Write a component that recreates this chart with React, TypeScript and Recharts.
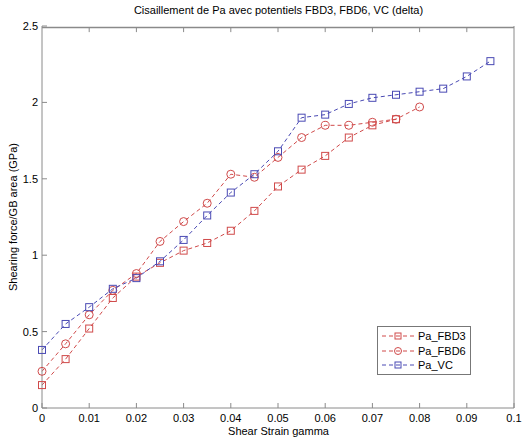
import { LineChart, Line, XAxis, YAxis, ReferenceLine } from 'recharts';

const strain = [0, 0.005, 0.01, 0.015, 0.02, 0.025, 0.03, 0.035, 0.04, 0.045, 0.05, 0.055, 0.06, 0.065, 0.07, 0.075, 0.08, 0.085, 0.09, 0.095];
const fbd3 = [0.15, 0.32, 0.52, 0.72, 0.86, 0.95, 1.03, 1.08, 1.16, 1.29, 1.45, 1.56, 1.65, 1.77, 1.85, 1.89];
const fbd6 = [0.24, 0.42, 0.61, 0.77, 0.88, 1.09, 1.22, 1.34, 1.53, 1.51, 1.64, 1.77, 1.85, 1.85, 1.87, 1.89, 1.97];
const vc = [0.38, 0.55, 0.66, 0.78, 0.85, 0.96, 1.1, 1.26, 1.41, 1.53, 1.68, 1.9, 1.92, 1.99, 2.03, 2.05, 2.07, 2.09, 2.17, 2.27];
const xTicks = [0, 0.01, 0.02, 0.03, 0.04, 0.05, 0.06, 0.07, 0.08, 0.09, 0.1];
const yTicks = [0, 0.5, 1, 1.5, 2, 2.5];

const RED = '#d04a4a';
const BLUE = '#4a4ab4';
const AXIS = '#8a8a8a';
const FONT = 'Liberation Sans, Arial, sans-serif';

const data = strain.map((x, i) => ({ x, fbd3: fbd3[i], fbd6: fbd6[i], vc: vc[i] }));

const square = (color: string) => (props: any) => {
  const { cx, cy, index } = props;
  if (cx == null || cy == null) return <g key={index} />;
  return <rect key={index} x={cx - 3.5} y={cy - 3.5} width={7} height={7} fill='none' stroke={color} strokeWidth={1} />;
};
const circle = (color: string) => (props: any) => {
  const { cx, cy, index } = props;
  if (cx == null || cy == null) return <g key={index} />;
  return <circle key={index} cx={cx} cy={cy} r={4} fill='none' stroke={color} strokeWidth={1} />;
};

const legendItems = [
  { name: 'Pa_FBD3', color: RED, shape: 'square' },
  { name: 'Pa_FBD6', color: RED, shape: 'circle' },
  { name: 'Pa_VC', color: BLUE, shape: 'square' },
];

const LegendBox = () => (
  <div style={{ position: 'absolute', left: 377, top: 326, border: '1px solid #777', background: '#fff', width: 94, height: 49, boxSizing: 'border-box', padding: '2px 0 0 3px', fontFamily: FONT, fontSize: 11 }}>
    {legendItems.map((it) => (
      <div key={it.name} style={{ display: 'flex', alignItems: 'center', height: 14.5 }}>
        <svg width={34} height={12}>
          <line x1={1} y1={6} x2={33} y2={6} stroke={it.color} strokeDasharray='4 3' />
          {it.shape === 'square' ? (
            <rect x={14} y={3} width={6} height={6} fill='none' stroke={it.color} />
          ) : (
            <circle cx={17} cy={6} r={3.5} fill='none' stroke={it.color} />
          )}
        </svg>
        <span style={{ marginLeft: 3, color: '#000' }}>{it.name}</span>
      </div>
    ))}
  </div>
);

export default function App() {
  return (
    <div style={{ position: 'absolute', left: 0, top: 0, width: 524, height: 438, background: '#fff', fontFamily: FONT }}>
      <div style={{ position: 'absolute', left: 42, width: 473, top: 4, textAlign: 'center', fontSize: 11, color: '#000' }}>
        Cisaillement de Pa avec potentiels FBD3, FBD6, VC (delta)
      </div>
      <div style={{ position: 'absolute', left: 42, width: 473, top: 425, textAlign: 'center', fontSize: 11, color: '#000' }}>
        Shear Strain gamma
      </div>
      <div style={{ position: 'absolute', left: 13, top: 217, transform: 'translate(-50%, -50%) rotate(-90deg)', whiteSpace: 'nowrap', fontSize: 11, color: '#000' }}>
        Shearing force/GB area (GPa)
      </div>
      <LineChart width={524} height={438} data={data} margin={{ top: 26, right: 9, bottom: 0, left: 0 }}>
        <XAxis
          dataKey='x'
          type='number'
          domain={[0, 0.1]}
          ticks={xTicks}
          interval={0}
          height={30}
          stroke={AXIS}
          tickSize={-5}
          tickMargin={11}
          tick={{ fill: '#000', fontSize: 11, fontFamily: FONT }}
        />
        <YAxis
          type='number'
          domain={[0, 2.5]}
          ticks={yTicks}
          interval={0}
          width={42}
          stroke={AXIS}
          tickSize={-5}
          tickMargin={9}
          tick={{ fill: '#000', fontSize: 11, fontFamily: FONT }}
        />
        <YAxis
          yAxisId='right'
          orientation='right'
          type='number'
          domain={[0, 2.5]}
          ticks={yTicks}
          interval={0}
          width={1}
          stroke={AXIS}
          tickSize={-5}
          tick={false}
        />
        <ReferenceLine y={2.49} stroke={AXIS} strokeWidth={1.5} />
        {xTicks.slice(1, -1).map((t) => (
          <ReferenceLine key={t} segment={[{ x: t, y: 2.49 }, { x: t, y: 2.46 }]} stroke={AXIS} />
        ))}
        <Line dataKey='fbd3' name='Pa_FBD3' stroke={RED} strokeWidth={1} strokeDasharray='4 3' dot={square(RED)} isAnimationActive={false} />
        <Line dataKey='fbd6' name='Pa_FBD6' stroke={RED} strokeWidth={1} strokeDasharray='4 3' dot={circle(RED)} isAnimationActive={false} />
        <Line dataKey='vc' name='Pa_VC' stroke={BLUE} strokeWidth={1} strokeDasharray='4 3' dot={square(BLUE)} isAnimationActive={false} />
        <Line dataKey='vc' yAxisId='right' stroke='none' dot={false} legendType='none' isAnimationActive={false} />
      </LineChart>
      <LegendBox />
    </div>
  );
}
